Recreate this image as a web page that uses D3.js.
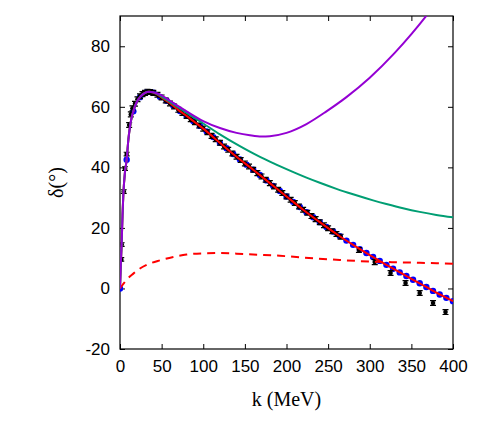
<!DOCTYPE html>
<html>
<head>
<meta charset="utf-8">
<script src="https://cdnjs.cloudflare.com/ajax/libs/d3/7.8.5/d3.min.js"></script>
<style>
  body { margin: 0; background: white; }
</style>
</head>
<body>
<svg id="chart" width="491" height="436"></svg>
<script>
// Données

// points expérimentaux (k en MeV, delta en degrés, erreur)
const dataK = [1.5, 2, 4.5, 6, 8, 11, 13, 15, 18, 21, 24, 27, 30, 33, 36, 40, 45,
    50, 55, 60, 65, 70, 75, 80, 85, 90, 95, 100, 105, 110, 115, 120, 125, 130, 135,
    140, 145, 150, 155, 160, 165, 170, 175, 180, 185, 190, 195, 200, 205, 210, 215,
    220, 225, 230, 235, 240, 245, 250, 255, 260, 265, 287, 306, 325, 343, 360, 376, 391]
const dataD = [9.6, 14.5, 32, 39.6, 44.4, 54, 57.5, 59.5, 61, 62.5, 63.5, 64.2, 64.6, 65, 64.9, 64.6, 64,
    63.1, 62.1, 61.1, 60.1, 59, 58, 57, 55.9, 54.9, 53.8, 52.8, 51.6, 50.4, 49.3, 48.1, 46.9, 45.8, 44.6,
    43.5, 42.4, 41.3, 40.3, 39.2, 38.1, 37, 35.9, 34.8, 33.7, 32.6, 31.5, 30.4, 29.3, 28.2, 27.1,
    26, 25, 23.9, 22.9, 21.9, 20.9, 19.9, 18.9, 18, 17.1, 12.7, 8.7, 5.1, 1.8, -1.5, -4.8, -7.8]
const dataErr = [0.6, 0.6, 0.6, 0.6, 0.6, 0.8, 0.8, 0.8, 0.8, 0.8, 0.8, 0.8, 0.8, 0.8, 0.8, 0.8, 0.8,
    0.8, 0.8, 0.8, 0.8, 0.8, 0.8, 0.8, 0.8, 0.8, 0.8, 0.8, 0.8, 0.8, 0.8, 0.8, 0.8, 0.8, 0.8,
    0.8, 0.8, 0.8, 0.8, 0.8, 0.8, 0.8, 0.8, 0.8, 0.8, 0.8, 0.8, 0.8, 0.8, 0.8, 0.8,
    0.8, 0.8, 0.8, 0.8, 0.8, 0.8, 0.8, 0.8, 0.8, 0.8, 0.8, 0.8, 0.8, 0.8, 0.8, 0.8, 0.8]

// points du modèle (cercles bleus)
const blueK = [0, 8, 16, 24, 32, 40, 48, 56, 64, 72, 80, 88, 96, 104, 112, 120, 128, 136, 144,
    152, 160, 168, 176, 184, 192, 200, 208, 216, 224, 232, 240, 248, 256, 264, 272, 280, 288,
    296, 304, 312, 320, 328, 336, 344, 352, 360, 368, 376, 384, 392, 400]
const blueD = [0, 42.5, 58.5, 63.2, 64.8, 64.7, 63.3, 62, 60.4, 58.6, 57, 55.3, 53.7, 51.9, 50, 48.1,
    46.3, 44.4, 42.6, 40.9, 39.2, 37.5, 35.7, 33.9, 32.2, 30.4, 28.6, 26.9, 25.2, 23.5, 21.9, 20.3,
    18.8, 17.3, 15.8, 14.4, 13, 11.7, 10.4, 9.1, 7.8, 6.5, 5.3, 4.1, 2.9, 1.7, 0.5, -0.8, -2, -3.1, -4.2]

// courbe rouge pleine
const redK = [0, 1, 2, 3, 4, 6, 8, 10, 12, 14, 16, 20, 25, 30, 35, 40, 45, 50, 60, 70, 80, 90, 100,
    120, 140, 160, 180, 200, 220, 240, 260, 280, 300, 320, 340, 360, 380, 400]
const redD = [0, 8, 15, 24, 31, 38.5, 42.5, 49, 53.5, 56.5, 58.5, 61.5, 63.5, 64.6, 65, 64.7, 64, 63.1,
    61.2, 59, 57, 54.9, 52.8, 48.1, 43.5, 39.2, 34.8, 30.4, 26, 21.9, 18, 14.4, 11, 7.8, 4.7, 1.7, -1.4, -4.2]

// courbe rouge pointillée
const dashK = [0, 4, 8, 16, 24, 32, 48, 64, 80, 100, 120, 140, 160, 192, 220, 264, 300, 340, 400]
const dashD = [0, 1.5, 2.9, 4.9, 6.6, 7.8, 9.3, 10.4, 11.2, 11.6, 11.7, 11.5, 11.2, 10.8, 10.2, 9.4, 8.9, 8.6, 8.2]

// courbe verte
const greenK = [0, 1, 2, 3, 4, 6, 8, 10, 12, 14, 16, 20, 25, 30, 35, 40, 45, 50, 60, 70, 80, 100, 120,
    144, 160, 180, 200, 224, 240, 260, 280, 304, 320, 340, 360, 380, 400]
const greenD = [0, 8, 15, 24, 31, 38.5, 42.5, 49, 53.5, 56.5, 58.5, 61.5, 63.5, 64.6, 65, 64.8, 64.2, 63.4,
    61.6, 59.8, 58, 54.5, 50.9, 47, 44.6, 41.9, 39.4, 36.6, 34.9, 32.9, 31.1, 29.1, 27.9, 26.5, 25.3, 24.3, 23.5]

// courbe violette
const purpleK = [0, 1, 2, 3, 4, 6, 8, 10, 12, 14, 16, 20, 25, 30, 35, 40, 50, 60, 70, 80, 100, 120, 140,
    156, 170, 180, 200, 224, 248, 272, 300, 330, 350, 370, 380]
const purpleD = [0, 8, 15, 24, 31, 38.5, 42.5, 49, 53.5, 56.5, 58.5, 61.5, 63.5, 64.6, 65, 64.8, 63.8,
    62, 60.2, 58.5, 55.3, 53, 51.4, 50.6, 50.2, 50.3, 51.4, 54.3, 58.5, 63.2, 69.6, 77.8, 84, 90.8, 94.5]

const xTicks = [0, 50, 100, 150, 200, 250, 300, 350, 400]
const yTicks = [-20, 0, 20, 40, 60, 80]

// Graphique
const svg = d3.select("#chart")

const pLeft = 120, pRight = 453, pTop = 16, pBottom = 349

const x = d3.scaleLinear().domain([0, 400]).range([pLeft, pRight])
const y = d3.scaleLinear().domain([-20, 90]).range([pBottom, pTop])

svg.append("defs").append("clipPath")
    .attr("id", "clip")
    .append("rect")
    .attr("x", pLeft)
    .attr("y", pTop)
    .attr("width", pRight - pLeft)
    .attr("height", pBottom - pTop)

// Axes (ticks vers l'intérieur, sur les 4 côtés)
svg.append("g")
    .attr("transform", `translate(0,${pBottom})`)
    .call(d3.axisBottom(x).tickValues(xTicks).tickSize(-5).tickPadding(11).tickFormat(d => String(d)))
svg.append("g")
    .attr("transform", `translate(0,${pTop})`)
    .call(d3.axisTop(x).tickValues(xTicks).tickSize(-5).tickFormat(""))
svg.append("g")
    .attr("transform", `translate(${pLeft},0)`)
    .call(d3.axisLeft(y).tickValues(yTicks).tickSize(-5).tickPadding(10).tickFormat(d => String(d)))
svg.append("g")
    .attr("transform", `translate(${pRight},0)`)
    .call(d3.axisRight(y).tickValues(yTicks).tickSize(-5).tickFormat(""))

svg.selectAll(".domain").remove()
svg.selectAll(".tick line").attr("stroke", "black").attr("stroke-width", 1)
svg.selectAll(".tick text")
    .attr("font-family", "Liberation Sans, Arial, sans-serif")
    .attr("font-size", 17)
    .attr("fill", "black")

svg.append("rect")
    .attr("x", pLeft)
    .attr("y", pTop)
    .attr("width", pRight - pLeft)
    .attr("height", pBottom - pTop)
    .attr("fill", "none")
    .attr("stroke", "black")
    .attr("stroke-width", 1.2)

// Titres
svg.append("text")
    .attr("x", (pLeft + pRight) / 2)
    .attr("y", 406)
    .attr("text-anchor", "middle")
    .attr("font-family", "Liberation Serif, Times New Roman, serif")
    .attr("font-size", 20)
    .text("k (MeV)")

svg.append("text")
    .attr("transform", `translate(63,${(pTop + pBottom) / 2}) rotate(-90)`)
    .attr("text-anchor", "middle")
    .attr("font-family", "Liberation Serif, Times New Roman, serif")
    .attr("font-size", 20)
    .text("δ(°)")

const plot = svg.append("g").attr("clip-path", "url(#clip)")

const line = d3.line()
    .x(d => x(d[0]))
    .y(d => y(d[1]))
    .curve(d3.curveMonotoneX)

// cercles bleus
plot.append("g")
    .selectAll("circle")
    .data(d3.zip(blueK, blueD))
    .enter()
    .append("circle")
    .attr("cx", d => x(d[0]))
    .attr("cy", d => y(d[1]))
    .attr("r", 3.2)
    .attr("fill", "#0000ff")

// données avec barres d'erreur
const pts = plot.append("g")
    .selectAll("g")
    .data(d3.zip(dataK, dataD, dataErr))
    .enter()
    .append("g")

pts.append("path")
    .attr("d", d => {
        const cx = x(d[0]), y1 = y(d[1] + d[2]), y2 = y(d[1] - d[2])
        return `M${cx - 3},${y1}H${cx + 3}M${cx},${y1}V${y2}M${cx - 3},${y2}H${cx + 3}`
    })
    .attr("stroke", "black")
    .attr("stroke-width", 1.2)
    .attr("fill", "none")

pts.append("circle")
    .attr("cx", d => x(d[0]))
    .attr("cy", d => y(d[1]))
    .attr("r", 2.3)
    .attr("fill", "black")

// courbes
plot.append("path")
    .datum(d3.zip(redK, redD))
    .attr("d", line)
    .attr("stroke", "#ff0000")
    .attr("stroke-width", 2)
    .attr("fill", "none")

plot.append("path")
    .datum(d3.zip(dashK, dashD))
    .attr("d", line)
    .attr("stroke", "#ff0000")
    .attr("stroke-width", 2)
    .attr("stroke-dasharray", "8,6")
    .attr("fill", "none")

plot.append("path")
    .datum(d3.zip(greenK, greenD))
    .attr("d", line)
    .attr("stroke", "#009e73")
    .attr("stroke-width", 2)
    .attr("fill", "none")

plot.append("path")
    .datum(d3.zip(purpleK, purpleD))
    .attr("d", line)
    .attr("stroke", "#9400d3")
    .attr("stroke-width", 2)
    .attr("fill", "none")
</script>
</body>
</html>
